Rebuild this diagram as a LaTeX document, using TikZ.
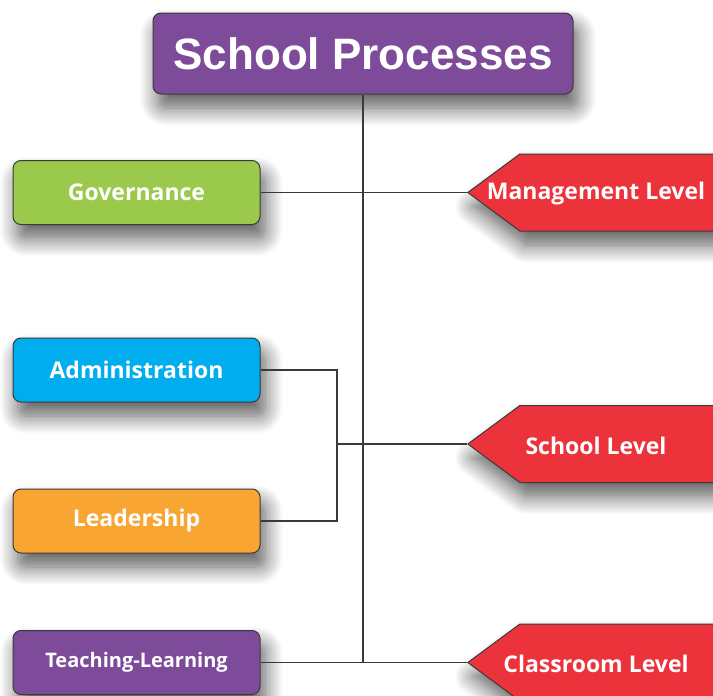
\documentclass[tikz,border=0pt]{standalone}
\usepackage{fontspec}
\newfontfamily\headfont{Liberation Sans}
\newfontfamily\labelfont{Open Sans}
\usetikzlibrary{shapes.symbols,shadows.blur}

\definecolor{procpurple}{HTML}{7E4B9B}
\definecolor{govgreen}{HTML}{9BC94B}
\definecolor{adminblue}{HTML}{00AEEF}
\definecolor{leadorange}{HTML}{F8A531}
\definecolor{levelred}{HTML}{EC323A}
\definecolor{edgegray}{HTML}{3A3A3A}

\tikzset{
  softshadow/.style={blur shadow={shadow xshift=5pt, shadow yshift=-14pt,
      shadow blur radius=18pt, shadow blur steps=14, shadow opacity=65}},
  procbox/.style={draw=edgegray, line width=1pt, rounded corners=8pt,
      minimum width=247pt, minimum height=64pt, text=white,
      font=\labelfont\bfseries\fontsize{23}{28}\selectfont, softshadow},
  levelbox/.style={shape=signal, signal to=west, signal pointer angle=73,
      draw=edgegray, line width=1pt, fill=levelred, minimum width=300pt,
      minimum height=77pt, anchor=west, softshadow},
  leveltext/.style={text=white, font=\labelfont\bfseries\fontsize{23}{28}\selectfont},
  link/.style={draw=edgegray, line width=1.6pt}
}

\begin{document}
\begin{tikzpicture}[x=1pt, y=-1pt]
     \useasboundingbox (0,0) rectangle (713,696);
     \clip (0,0) rectangle (713,696);
     % header
     \node (title) [draw=edgegray, line width=1pt, fill=procpurple, rounded corners=8pt,
          minimum width=420pt, minimum height=81pt, text=white,
          font=\headfont\bfseries\fontsize{44}{50}\selectfont, softshadow]
          at (363,53.5) {School Processes};
     % processes on the left
     \node (gov)   [procbox, fill=govgreen]   at (136.5,192.5) {Governance};
     \node (admin) [procbox, fill=adminblue]  at (136.5,370)   {Administration};
     \node (lead)  [procbox, fill=leadorange] at (136.5,521)   {Leadership};
     \node (teach) [procbox, fill=procpurple,
          font=\labelfont\bfseries\fontsize{20}{24}\selectfont] at (136.5,662.5) {Teaching-Learning};
     % levels on the right
     \node (mgmt)   [levelbox] at (467,192.5) {};
     \node (school) [levelbox] at (467,444)   {};
     \node (class)  [levelbox] at (467,662.5) {};
     \node (mgmttext)   [leveltext] at ([xshift=129pt, yshift=-1.5pt]mgmt.west)   {Management Level};
     \node (schooltext) [leveltext] at ([xshift=129pt, yshift=-1.5pt]school.west) {School Level};
     \node (classtext)  [leveltext] at ([xshift=129pt, yshift=-1.5pt]class.west)  {Classroom Level};
     \coordinate (join) at (337,444);
     % connectors
     \draw[link] (title.south) -- (title.south |- teach.east);
     \draw[link] (gov.east) -- (mgmt.west);
     \draw[link] (admin.east) -| (join) |- (lead.east);
     \draw[link] (join) -- (school.west);
     \draw[link] (teach.east) -- (class.west);
    \end{tikzpicture}
\end{document}
